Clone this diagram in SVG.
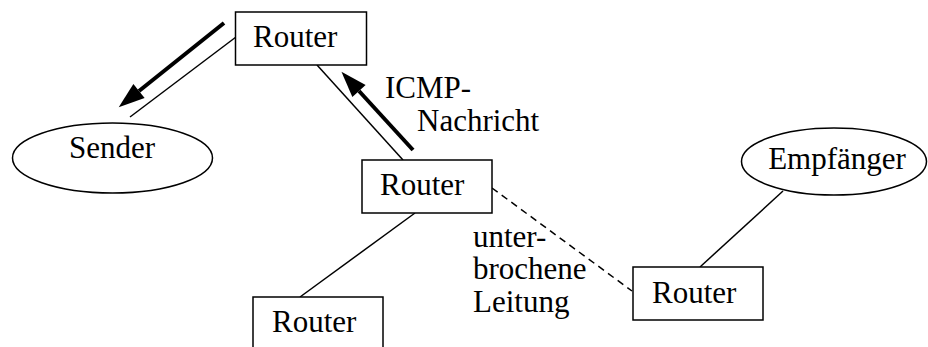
<svg xmlns="http://www.w3.org/2000/svg" width="928" height="347" viewBox="0 0 928 347">
<defs>
<style>
.box{fill:#fff;stroke:#000;stroke-width:1.5}
.ell{fill:#fff;stroke:#000;stroke-width:1.5}
.t{font-family:"Liberation Serif","Times New Roman",serif;font-size:31px;fill:#000}
.ln{stroke:#000;stroke-width:1.5;fill:none}
.dash{stroke:#000;stroke-width:1.5;fill:none;stroke-dasharray:7 5}
.arr{stroke:#000;stroke-width:4;fill:none;marker-end:url(#head)}
</style>
<marker id="head" markerUnits="userSpaceOnUse" markerWidth="28" markerHeight="20" refX="0" refY="9" orient="auto" overflow="visible">
<path d="M0,0 L26,9 L0,18 Z" fill="#000"/>
</marker>
</defs>
<rect width="928" height="347" fill="#fff"/>
<g id="connectors">
<line class="ln" x1="236" y1="37" x2="130" y2="117"/>
<line class="ln" x1="317" y1="65" x2="403" y2="160"/>
<line class="ln" x1="415" y1="213" x2="300" y2="297"/>
<line class="dash" x1="492" y1="188" x2="632" y2="291"/>
<line class="ln" x1="783" y1="191" x2="700" y2="267"/>
<line class="arr" x1="224" y1="23" x2="139" y2="91"/>
<line class="arr" x1="413" y1="150" x2="359" y2="91"/>
</g>
<g id="router-top">
<rect class="box" x="235.5" y="12" width="131" height="53"/>
<text class="t" x="253" y="47">Router</text>
</g>
<g id="sender">
<ellipse class="ell" cx="112.5" cy="158" rx="100" ry="35"/>
<text class="t" x="112" y="158" text-anchor="middle">Sender</text>
</g>
<g id="router-middle">
<rect class="box" x="362" y="160" width="130" height="53"/>
<text class="t" x="380" y="195">Router</text>
</g>
<g id="router-bottom">
<rect class="box" x="253" y="297" width="130" height="60"/>
<text class="t" x="272" y="332">Router</text>
</g>
<g id="router-right">
<rect class="box" x="633" y="267" width="130" height="53"/>
<text class="t" x="652" y="303">Router</text>
</g>
<g id="empfaenger">
<ellipse class="ell" cx="834" cy="161.5" rx="92.5" ry="33.5"/>
<text class="t" x="837" y="169" text-anchor="middle">Empfänger</text>
</g>
<g id="label-icmp">
<text class="t" x="385" y="98">ICMP-</text>
<text class="t" x="417" y="131">Nachricht</text>
</g>
<g id="label-leitung">
<text class="t" x="473" y="247">unter-</text>
<text class="t" x="473" y="279">brochene</text>
<text class="t" x="473" y="312">Leitung</text>
</g>
</svg>
